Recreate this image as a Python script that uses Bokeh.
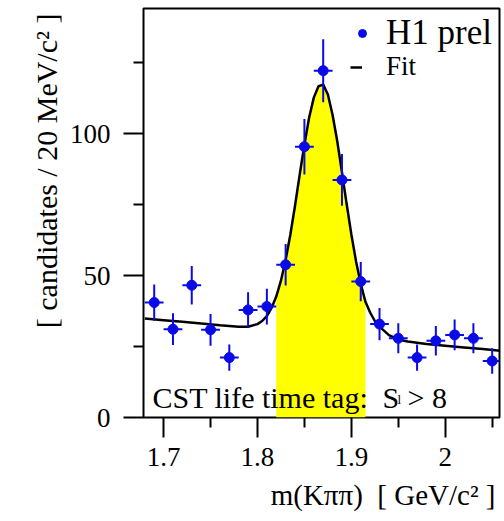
import math
import numpy as np
from bokeh.plotting import figure
from bokeh.models import (Range1d, FixedTicker, Label, Legend, LegendItem, Title)
from bokeh.embed import file_html
from bokeh.resources import INLINE

# ---- data ----
mass = [1.69, 1.71, 1.73, 1.75, 1.77, 1.79, 1.81, 1.83, 1.85, 1.87,
        1.89, 1.91, 1.93, 1.95, 1.97, 1.99, 2.01, 2.03, 2.05]
counts = [40.5, 31.1, 46.6, 30.9, 21.1, 37.9, 39.1, 53.8, 95.4, 122.2,
          83.7, 47.9, 32.9, 27.9, 21.1, 27.0, 29.1, 27.9, 19.9]
errors = [6.4, 5.6, 6.8, 5.6, 4.6, 6.2, 6.3, 7.3, 9.8, 11.1,
          9.1, 6.9, 5.7, 5.3, 4.6, 5.2, 5.4, 5.3, 4.5]
bin_half = 0.01

fit_x = [1.68, 1.70, 1.72, 1.74, 1.76, 1.78, 1.79, 1.80, 1.805, 1.81, 1.815,
         1.82, 1.825, 1.83, 1.835, 1.84, 1.845, 1.85, 1.855, 1.86, 1.865,
         1.87, 1.875, 1.88, 1.885, 1.89, 1.895, 1.90, 1.905, 1.91, 1.915,
         1.92, 1.925, 1.93, 1.94, 1.95, 1.96, 1.98, 2.00, 2.02, 2.04, 2.06]
fit_y = [34.9, 34.3, 33.7, 33.1, 32.5, 32.0, 32.0, 32.9, 34.0, 35.7, 38.6,
         42.6, 48.2, 55.5, 64.4, 74.6, 85.6, 96.2, 105.6, 112.7, 116.7,
         117.3, 113.8, 106.6, 97.3, 86.4, 75.2, 64.5, 55.0, 47.1, 40.8,
         37.0, 34.0, 32.0, 29.0, 27.5, 26.8, 25.9, 25.3, 24.7, 24.1, 23.5]
signal_window = [1.82, 1.915]

x_ticks = [1.7, 1.8, 1.9, 2.0]
x_tick_labels = ["1.7", "1.8", "1.9", "2"]
x_minor = [1.75, 1.85, 1.95, 2.05]
y_ticks = [0, 50, 100]
y_minor = [25, 75, 125]

x_title = "m(K\u03c0\u03c0)\u00a0\u00a0[ GeV/c\u00b2 ]"
y_title = "[ candidates / 20 MeV/c\u00b2 ]"

FONT = "Liberation Serif"
BLUE = "#0a0ae6"

p = figure(width=504, height=521, output_backend="svg", toolbar_location=None,
           x_range=Range1d(1.6786, 2.0578), y_range=Range1d(0, 144.1),
           min_border_left=143, min_border_right=5, min_border_top=8,
           min_border_bottom=104)
p.xgrid.visible = False
p.ygrid.visible = False
p.outline_line_color = "black"
p.outline_line_width = 2
p.background_fill_color = "white"
p.border_fill_color = "white"

for ax, ticks, minor, standoff in ((p.xaxis[0], x_ticks, x_minor, 10),
                                   (p.yaxis[0], y_ticks, y_minor, 13)):
    ax.ticker = FixedTicker(ticks=ticks, minor_ticks=minor)
    ax.axis_line_color = None
    ax.major_tick_in = 0
    ax.major_tick_out = 20
    ax.minor_tick_in = 0
    ax.minor_tick_out = 10
    ax.major_tick_line_width = 2
    ax.minor_tick_line_width = 2
    ax.major_tick_line_color = "black"
    ax.minor_tick_line_color = "black"
    ax.major_label_text_font = FONT
    ax.major_label_text_font_size = "27px"
    ax.major_label_text_color = "black"
    ax.major_label_standoff = standoff
p.xaxis[0].major_label_overrides = {t: l for t, l in zip(x_ticks, x_tick_labels)}

# axis titles, right/top aligned as in the reference
p.add_layout(Title(text=x_title, align="right", text_font=FONT,
                   text_font_size="29px", text_font_style="normal",
                   text_color="black", standoff=16, offset=4), "below")
p.add_layout(Title(text=y_title, align="right", text_font=FONT,
                   text_font_size="30px", text_font_style="normal",
                   text_color="black", standoff=8, offset=5), "left")

# signal region fill under the fit
fx = np.array(fit_x)
fy = np.array(fit_y)
m = (fx >= signal_window[0] - 1e-9) & (fx <= signal_window[1] + 1e-9)
p.varea(x=fx[m], y1=np.zeros(m.sum()), y2=fy[m], fill_color="#ffff00")

fit_r = p.line(fit_x, fit_y, line_color="black", line_width=2.5)

mx = np.array(mass)
cy = np.array(counts)
ey = np.array(errors)
p.segment(x0=mx, y0=cy - ey, x1=mx, y1=cy + ey, line_color=BLUE, line_width=2)
p.segment(x0=mx - bin_half, y0=cy, x1=mx + bin_half, y1=cy, line_color=BLUE,
          line_width=2)
pts = p.scatter(mass, counts, size=10, fill_color=BLUE, line_color=BLUE)

# legends
leg1 = Legend(items=[LegendItem(label="H1 prel", renderers=[pts])],
              location=(209, 364), padding=0, margin=0, glyph_width=20,
              glyph_height=20, label_standoff=14, label_text_font=FONT,
              label_text_font_size="35px", label_text_color="black",
              background_fill_alpha=0, border_line_alpha=0)
leg2 = Legend(items=[LegendItem(label="Fit", renderers=[fit_r])],
              location=(207, 335), padding=0, margin=0, glyph_width=12,
              glyph_height=20, label_standoff=24, label_text_font=FONT,
              label_text_font_size="27px", label_text_color="black",
              background_fill_alpha=0, border_line_alpha=0)
p.add_layout(leg1)
p.add_layout(leg2)

# texts inside the frame (screen units, relative to the plot frame)
def lab(x, y, text, size, **kw):
    p.add_layout(Label(x=x, y=y, x_units="screen", y_units="screen", text=text,
                       text_font=FONT, text_font_size=size, text_color="black",
                       **kw))

lab(9, 20, "CST life time tag:", "30px", text_baseline="alphabetic")
lab(239, 20, "S", "30px", text_baseline="alphabetic")
lab(254, 18, "l", "13px", text_baseline="alphabetic")
lab(264, 20, "> 8", "30px", text_baseline="alphabetic")

open("out.html", "w").write(file_html(p, INLINE))
